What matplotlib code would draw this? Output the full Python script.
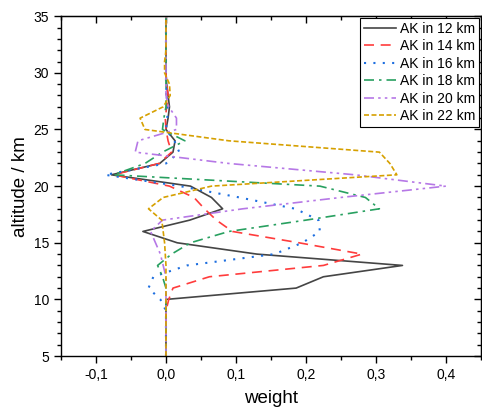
import numpy as np
import matplotlib
matplotlib.use('Agg')
import matplotlib.pyplot as plt
from matplotlib.ticker import MultipleLocator, FuncFormatter

plt.rcParams['font.family'] = ['Liberation Sans', 'DejaVu Sans']

# altitude grid (km)
altitude = list(range(5, 36))

#            5  6  7  8  9   10     11     12     13     14     15     16     17     18     19     20     21     22     23     24     25     26     27     28     29     30  31 32 33 34 35
ak12 = [0, 0, 0, 0, 0, 0.000, 0.186, 0.225, 0.338, 0.130, 0.016, -0.033, 0.034, 0.081, 0.065, 0.035, -0.078, -0.009, 0.010, 0.013, 0.000, 0.003, 0.005, 0.003, 0.001, 0, 0, 0, 0, 0, 0]
ak14 = [0, 0, 0, 0, 0, 0.004, 0.010, 0.062, 0.225, 0.280, 0.190, 0.095, 0.072, 0.055, 0.040, 0.005, -0.075, -0.010, 0.008, 0.003, 0.000, -0.001, 0.001, 0.003, 0.001, 0, 0, 0, 0, 0, 0]
ak16 = [0, 0, 0, 0, 0, -0.008, -0.025, -0.018, 0.030, 0.155, 0.195, 0.220, 0.218, 0.185, 0.105, 0.020, -0.087, 0.000, 0.019, 0.012, 0.000, 0.002, 0.002, 0.001, 0.000, 0, 0, 0, 0, 0, 0]
ak18 = [0, 0, 0, 0, 0, 0.000, 0.000, -0.005, -0.012, 0.008, 0.035, 0.090, 0.200, 0.305, 0.285, 0.220, -0.075, -0.030, -0.005, 0.027, -0.005, -0.003, 0.000, 0.000, 0.000, 0, 0, 0, 0, 0, 0]
ak20 = [0, 0, 0, 0, 0, 0.000, 0.000, 0.000, -0.004, -0.008, -0.015, -0.022, -0.005, 0.110, 0.250, 0.400, 0.270, 0.090, -0.044, -0.040, 0.015, 0.015, 0.004, 0.000, 0.000, 0, 0, 0, 0, 0, 0]
ak22 = [0, 0, 0, 0, 0, 0.000, 0.000, 0.000, 0.000, -0.001, -0.002, -0.004, -0.006, -0.025, -0.004, 0.065, 0.330, 0.320, 0.305, 0.090, -0.030, -0.037, -0.004, 0.006, 0.005, -0.002, -0.002, 0, 0, 0, 0]

labels = ['AK in 12 km', 'AK in 14 km', 'AK in 16 km', 'AK in 18 km', 'AK in 20 km', 'AK in 22 km']

fig = plt.figure(figsize=(4.82, 4.15), dpi=100)
ax = fig.add_axes([0.1266, 0.142, 0.871, 0.819])

lw = 1.2
ax.plot(ak12, altitude, color='#454545', lw=lw, ls='-', label=labels[0])
ax.plot(ak14, altitude, color='#ff3c3c', lw=lw, ls=(0, (6, 4)), label=labels[1])
ax.plot(ak16, altitude, color='#1e6fe0', lw=lw + 0.3, ls=(0, (1, 3.5)), label=labels[2])
ax.plot(ak18, altitude, color='#28a060', lw=lw, ls=(0, (6, 3, 1.5, 3)), label=labels[3])
ax.plot(ak20, altitude, color='#b678e6', lw=lw, ls=(0, (6, 2.5, 1.5, 2.5, 1.5, 2.5)), label=labels[4])
ax.plot(ak22, altitude, color='#d6a000', lw=lw, ls=(0, (3, 1.5)), label=labels[5])

ax.set_xlim(-0.15, 0.45)
ax.set_ylim(5, 35)
ax.xaxis.set_major_locator(MultipleLocator(0.1))
ax.xaxis.set_minor_locator(MultipleLocator(0.05))
ax.yaxis.set_major_locator(MultipleLocator(5))
ax.yaxis.set_minor_locator(MultipleLocator(1))
ax.xaxis.set_major_formatter(FuncFormatter(lambda v, p: ('%.1f' % v).replace('.', ',').replace('-0,0', '0,0')))
ax.yaxis.set_major_formatter(FuncFormatter(lambda v, p: '%d' % v))

ax.tick_params(which='both', direction='out', top=False, right=False, labelsize=10, colors='black')
ax.tick_params(which='major', length=5, width=1)
ax.tick_params(which='minor', length=3, width=1)

# mirrored ticks pointing inward on top and right
ax_top = ax.secondary_xaxis('top')
ax_top.xaxis.set_major_locator(MultipleLocator(0.1))
ax_top.xaxis.set_minor_locator(MultipleLocator(0.05))
ax_top.tick_params(which='both', direction='in', labeltop=False)
ax_top.tick_params(which='major', length=5, width=1)
ax_top.tick_params(which='minor', length=3, width=1)
ax_right = ax.secondary_yaxis('right')
ax_right.yaxis.set_major_locator(MultipleLocator(5))
ax_right.yaxis.set_minor_locator(MultipleLocator(1))
ax_right.tick_params(which='both', direction='in', labelright=False)
ax_right.tick_params(which='major', length=5, width=1)
ax_right.tick_params(which='minor', length=3, width=1)

for s in ax.spines.values():
    s.set_linewidth(1)

ax.set_xlabel('weight', fontsize=13.5, labelpad=6)
ax.set_ylabel('altitude / km', fontsize=13.5, labelpad=3)

leg = ax.legend(loc='upper right', fontsize=10, frameon=True, fancybox=False,
                edgecolor='black', framealpha=1, labelspacing=0.25, handlelength=2.3,
                handletextpad=0.3, borderpad=0.3, borderaxespad=0.1)
leg.get_frame().set_linewidth(0.8)

fig.savefig('out.png', dpi=100)
